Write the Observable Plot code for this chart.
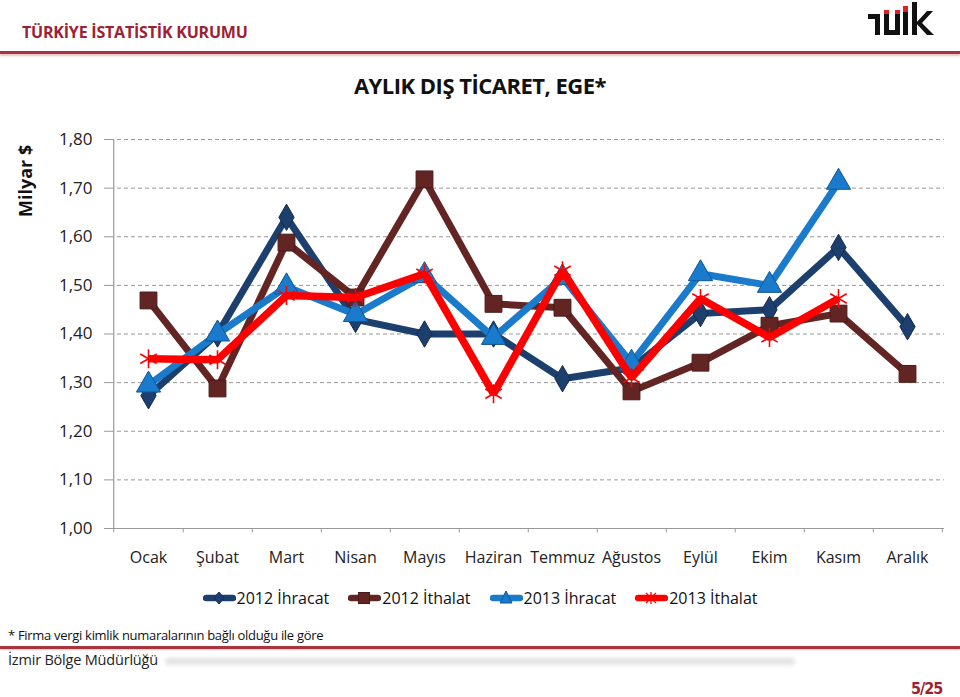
<!DOCTYPE html>
<html><head><meta charset="utf-8">
<script src="https://cdn.jsdelivr.net/npm/d3@7"></script>
<script src="https://cdn.jsdelivr.net/npm/@observablehq/plot@0.6"></script>
<style>
html,body{margin:0;padding:0;background:#fff;}
body{width:960px;height:697px;position:relative;overflow:hidden;font-family:"Open Sans",Lato,sans-serif;}
.abs{position:absolute;}
#hdr{left:22px;top:21px;font-size:16px;font-weight:bold;color:#9c2233;letter-spacing:-0.2px;}
#hline{left:0;top:51px;width:960px;height:3px;background:#a8343d;box-shadow:0 2px 2px #e3c4c6;}
#title{left:0;width:960px;top:70px;text-align:center;font-size:22px;font-weight:bold;color:#111;letter-spacing:-0.5px;}
#ylab{left:13px;top:217px;transform-origin:0 0;transform:rotate(-90deg);font-size:18px;font-weight:bold;color:#111;white-space:nowrap;}
#chart{left:0;top:120px;}
#legend{left:0;top:587px;width:960px;display:flex;justify-content:center;gap:19px;font-size:16px;color:#111;}
#legend .it{display:flex;align-items:center;}
#legend svg{margin-right:1px;}
#note{left:8px;top:626px;font-size:13px;color:#111;letter-spacing:-0.3px;}
#fline{left:0;top:646px;width:960px;height:3px;background:#a8343d;box-shadow:0 1px 2px #e3c4c6;}
#izmir{left:8px;top:650px;font-size:14.5px;color:#222;letter-spacing:-0.2px;}
#gbar{left:165px;top:658px;width:630px;height:7px;background:#e2e2e2;border-radius:4px;filter:blur(2px);}
#page{left:911px;top:679px;font-size:16px;font-weight:bold;color:#9c2233;font-family:"Liberation Sans Narrow","DejaVu Sans Condensed",sans-serif;letter-spacing:-1px;}
</style></head>
<body>
<div id="hdr" class="abs">TÜRKİYE İSTATİSTİK KURUMU</div>
<svg class="abs" style="left:860px;top:0px" width="80" height="40">
  <rect x="8" y="14" width="12" height="5" fill="#111"/>
  <rect x="15" y="14" width="5" height="21" fill="#111"/>
  <rect x="24" y="14" width="5" height="21" fill="#111"/>
  <rect x="24" y="10" width="5" height="4" fill="#e31e24"/>
  <rect x="35" y="14" width="5" height="21" fill="#111"/>
  <rect x="35" y="10" width="5" height="4" fill="#e31e24"/>
  <rect x="24" y="30" width="16" height="5" fill="#111"/>
  <rect x="43" y="12" width="5" height="23" fill="#111"/>
  <rect x="43" y="6" width="5" height="6" fill="#e31e24"/>
  <rect x="52" y="2" width="5" height="33" fill="#111"/>
  <path d="M56,23 L67,11 L73,11 L62,23 L74,35 L67,35 Z" fill="#111"/>
</svg>
<div id="hline" class="abs"></div>
<div id="title" class="abs">AYLIK DIŞ TİCARET, EGE*</div>
<div id="ylab" class="abs">Milyar $</div>
<div id="chart" class="abs"></div>
<div id="legend" class="abs"></div>
<div id="note" class="abs">* Firma vergi kimlik numaralarının bağlı olduğu ile göre</div>
<div id="fline" class="abs"></div>
<div id="izmir" class="abs">İzmir Bölge Müdürlüğü</div>
<div id="gbar" class="abs"></div>
<div id="page" class="abs">5/25</div>
<script>
const months = ["Ocak","Şubat","Mart","Nisan","Mayıs","Haziran","Temmuz","Ağustos","Eylül","Ekim","Kasım","Aralık"];
const ihracat2012 = [1.273, 1.400, 1.640, 1.430, 1.400, 1.400, 1.308, 1.330, 1.442, 1.450, 1.578, 1.415];
const ithalat2012 = [1.469, 1.288, 1.588, 1.475, 1.718, 1.462, 1.454, 1.282, 1.341, 1.417, 1.442, 1.318];
const ihracat2013 = [1.295, 1.400, 1.497, 1.440, 1.520, 1.393, 1.516, 1.340, 1.524, 1.500, 1.712, null];
const ithalat2013 = [1.349, 1.347, 1.479, 1.475, 1.524, 1.277, 1.530, 1.310, 1.473, 1.393, 1.473, null];
const yTicks = [1.0, 1.1, 1.2, 1.3, 1.4, 1.5, 1.6, 1.7, 1.8];
const seriesNames = ["2012 İhracat", "2012 İthalat", "2013 İhracat", "2013 İthalat"];

const seriesStyle = [
  {values: ihracat2012, color: "#1c3f6e", mstroke: "#132c4f", symbol: "diamond", r: 8},
  {values: ithalat2012, color: "#632523", mstroke: "#4a1a19", symbol: "square", r: 9.5},
  {values: ihracat2013, color: "#1a7acb", mstroke: "#0f5796", symbol: "triangle", r: 9},
  {values: ithalat2013, color: "#ff0000", mstroke: "#ff0000", symbol: "asterisk", r: 9}
];

const fmt = d => d.toFixed(2).replace(".", ",");

const marks = [
  Plot.gridY(yTicks.slice(1), {stroke: "#999", strokeOpacity: 1, strokeDasharray: "4,3"}),
  Plot.axisY(yTicks, {tickFormat: fmt, tickSize: 6, tickPadding: 12, fontSize: 17, fill: "#222", stroke: "#999", label: null}),
  Plot.ruleY([1.0], {stroke: "#999", strokeWidth: 1.2}),
  Plot.ruleX([months[0]], {stroke: "#999", strokeWidth: 1.2, dx: -34.75}),
  Plot.ruleX(months, {x: d => d, y1: 1.0, y2: 0.991, stroke: "#999", dx: 34.75}),
  Plot.ruleX([months[0]], {y1: 1.0, y2: 0.991, stroke: "#999", dx: -34.75}),
  Plot.axisX({tickSize: 0, tickPadding: 23, fontSize: 16, fill: "#222", label: null})
];

seriesStyle.forEach((s, i) => {
  const data = months.map((m, j) => ({month: m, value: s.values[j], series: seriesNames[i]})).filter(d => d.value != null);
  marks.push(Plot.line(data, {x: "month", y: "value", stroke: s.color, strokeWidth: i === 3 ? 7.5 : 7, strokeLinejoin: "miter", strokeLinecap: "butt"}));
  if (s.symbol === "asterisk") {
    marks.push(Plot.dot(data, {x: "month", y: "value", symbol: "asterisk", r: s.r, stroke: s.color, strokeWidth: 1.6, fill: "none"}));
  } else {
    marks.push(Plot.dot(data, {x: "month", y: "value", symbol: s.symbol, r: s.r, fill: s.color, stroke: s.mstroke, strokeWidth: 1}));
  }
});

const chart = Plot.plot({
  width: 960,
  height: 460,
  marginLeft: 110,
  marginRight: 16,
  marginTop: 19,
  marginBottom: 52,
  style: {fontFamily: "'Open Sans', Lato, sans-serif", background: "transparent", overflow: "visible"},
  x: {type: "point", domain: months, padding: 0.5, axis: null},
  y: {domain: [1.0, 1.8], axis: null},
  marks
});
document.getElementById("chart").appendChild(chart);

// legend
const leg = document.getElementById("legend");
seriesStyle.forEach((s, i) => {
  const it = document.createElement("div");
  it.className = "it";
  let marker = "";
  if (s.symbol === "diamond") marker = `<path d="M16,3 L21,9 L16,15 L11,9 Z" fill="${s.color}" stroke="${s.mstroke}"/>`;
  if (s.symbol === "square") marker = `<rect x="10.5" y="3.5" width="11" height="11" fill="${s.color}" stroke="${s.mstroke}"/>`;
  if (s.symbol === "triangle") marker = `<path d="M16,2 L22,14 L10,14 Z" fill="${s.color}" stroke="${s.mstroke}"/>`;
  if (s.symbol === "asterisk") marker = `<path d="M11,4 L21,14 M21,4 L11,14 M16,3 L16,15" stroke="${s.color}" stroke-width="1.3"/>`;
  it.innerHTML = `<svg width="33" height="18"><line x1="3" y1="9" x2="30" y2="9" stroke="${s.color}" stroke-width="6.5" stroke-linecap="round"/>${marker}</svg><span>${seriesNames[i]}</span>`;
  leg.appendChild(it);
});
</script>
</body></html>
